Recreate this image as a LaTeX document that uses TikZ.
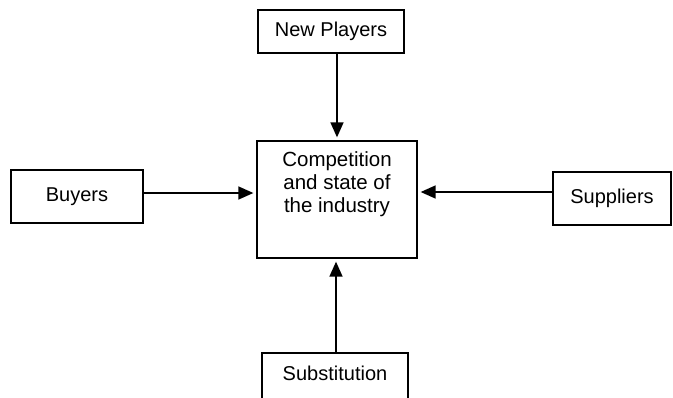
\documentclass[tikz,border=0pt]{standalone}
\usepackage{fontspec}
\setmainfont{Liberation Sans}
\usetikzlibrary{arrows.meta}
\begin{document}
\begin{tikzpicture}[x=1pt,y=-1pt,
  box/.style={draw,line width=1.3pt,inner sep=0pt,font=\fontsize{20}{23}\selectfont},
  conn/.style={line width=1.5pt,shorten >=3pt,-{Triangle[length=15pt,width=13pt]}}]
\clip (0,0) rectangle (673,397);
\fill[white] (0,0) rectangle (673,397);
\node[box,minimum width=146pt,minimum height=43pt] (np) at (331,31.5) {New Players};
\node[box,minimum width=160pt,minimum height=117pt] (core) at (337,199.5) {};
\node[font=\fontsize{20.5}{23}\selectfont,align=center,anchor=north,inner sep=0pt] (coretext) at ([yshift=-11pt]core.north) {Competition\\and state of\\the industry};
\node[box,minimum width=132pt,minimum height=53pt] (buyers) at (77,196.5) {Buyers};
\node[box,minimum width=118pt,minimum height=53pt] (sup) at (612,198.5) {Suppliers};
\node[box,minimum width=146pt,minimum height=48pt,text depth=8pt] (sub) at (335,377) {Substitution};
\draw[conn] (core.north |- np.south) -- (core.north);
\draw[conn] ([yshift=3.5pt]buyers.east) -- ([yshift=3.5pt]buyers.east -| core.west);
\draw[conn] ([yshift=6.5pt]sup.west) -- ([yshift=6.5pt]sup.west -| core.east);
\draw[conn] ([xshift=1pt]sub.north) -- ([xshift=1pt]sub.north |- core.south);
\end{tikzpicture}
\end{document}
